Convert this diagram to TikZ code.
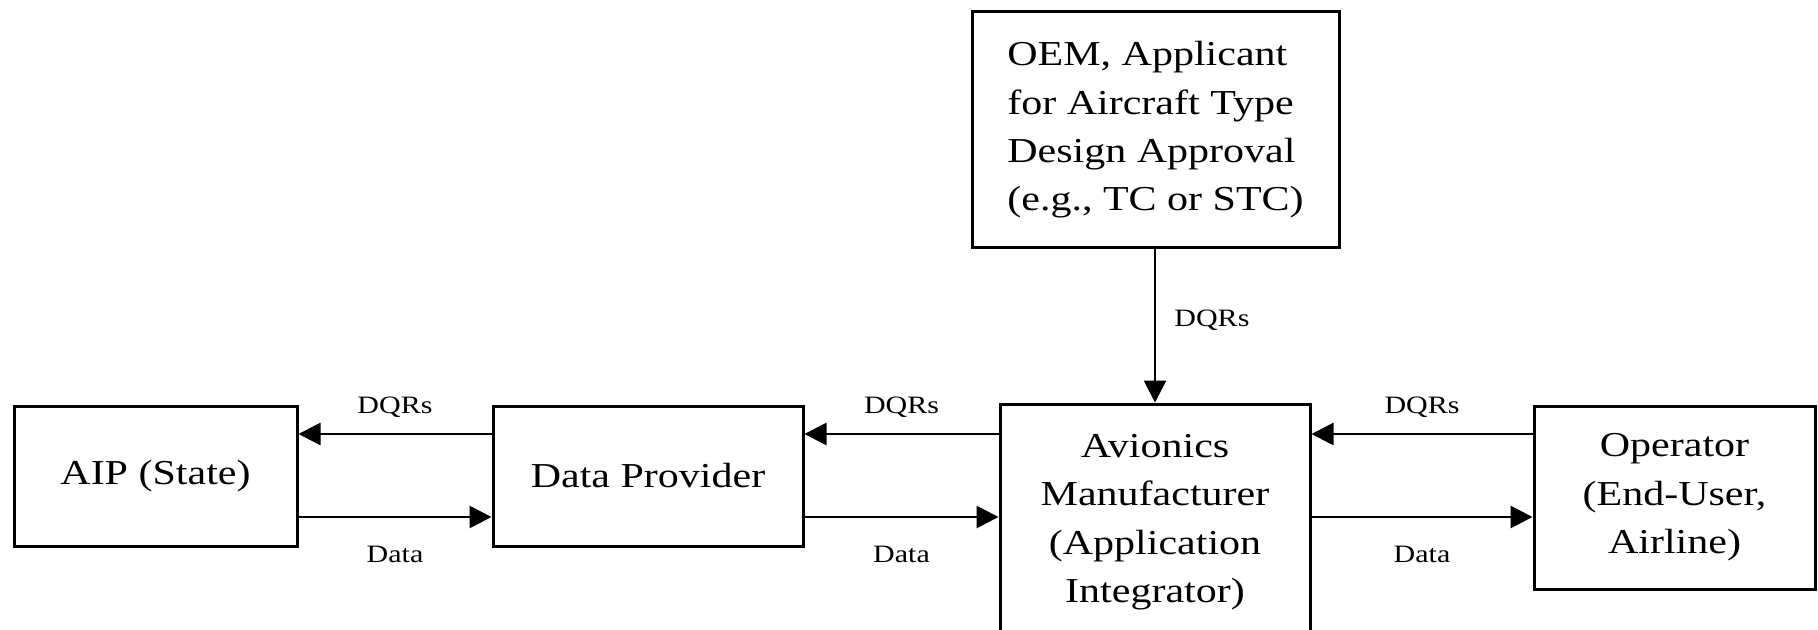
\documentclass[tikz,border=0pt]{standalone}
\usepackage{fontspec}
\setmainfont{Liberation Serif}
\newfontfamily\widefam[FakeStretch=1.2]{Liberation Serif}
\usetikzlibrary{arrows.meta}
\begin{document}
\begin{tikzpicture}[x=0.5pt, y=-0.5pt,
  box/.style={draw, line width=1.5pt, inner sep=0pt, align=center,
    font=\widefam\fontsize{17.5pt}{24.2pt}\selectfont},
  flow/.style={-{Triangle[length=11pt,width=11pt]}, line width=1.4pt},
  lbl/.style={font=\widefam\fontsize{12.5pt}{15pt}\selectfont, inner sep=0pt}]
\useasboundingbox (0,0) rectangle (1818,630);
\clip (0,0) rectangle (1818,630);

% boxes
\node[box, minimum width=141.5pt, minimum height=70pt] (aip) at (155.5,476) {AIP (State)};
\node[box, minimum width=155pt, minimum height=70pt] (dp) at (648,476) {Data Provider};
\node[box, align=left, minimum width=183.5pt, minimum height=118pt] (oem) at (1155.5,130)
  {OEM, Applicant\\for Aircraft Type\\Design Approval\\(e.g., TC or STC)};
\node[box, minimum width=155pt, minimum height=118pt] (avi) at (1155,522)
  {Avionics\\Manufacturer\\(Application\\Integrator)};
\node[box, minimum width=140.5pt, minimum height=91.5pt] (op) at (1674.5,497.5)
  {Operator\\(End-User,\\Airline)};

% rows of the horizontal flows
\coordinate (rq) at (0,434);
\coordinate (rd) at (0,517);

\draw[flow] (dp.west |- rq) -- node[lbl, midway, anchor=base, yshift=10.5pt] {DQRs} (aip.east |- rq);
\draw[flow] (aip.east |- rd) -- node[lbl, midway, anchor=base, yshift=-22.5pt] {Data} (dp.west |- rd);
\draw[flow] (avi.west |- rq) -- node[lbl, midway, anchor=base, yshift=10.5pt] {DQRs} (dp.east |- rq);
\draw[flow] (dp.east |- rd) -- node[lbl, midway, anchor=base, yshift=-22.5pt] {Data} (avi.west |- rd);
\draw[flow] (op.west |- rq) -- node[lbl, midway, anchor=base, yshift=10.5pt] {DQRs} (avi.east |- rq);
\draw[flow] (avi.east |- rd) -- node[lbl, midway, anchor=base, yshift=-22.5pt] {Data} (op.west |- rd);

% vertical flow
\draw[flow] (oem.south -| avi.north) -- node[lbl, midway, anchor=base west, xshift=9pt, yshift=-0.5pt] {DQRs} (avi.north);
\end{tikzpicture}
\end{document}
